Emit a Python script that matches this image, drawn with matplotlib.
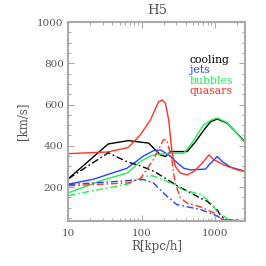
import matplotlib
matplotlib.use("Agg")
import matplotlib.pyplot as plt

# radius [kpc/h] and velocity [km/s]
r_cool = [10, 35, 66, 125, 163, 181, 212, 248, 307, 421, 548, 713, 881, 1088, 1494, 2700]
v_cool = [241, 409, 425, 413, 372, 356, 348, 372, 372, 372, 420, 477, 517, 530, 509, 413]

r_jets = [10, 22, 63, 107, 147, 181, 235, 276, 378, 468, 752, 836, 1088, 1277, 1660, 2700]
v_jets = [214, 238, 291, 351, 377, 380, 356, 332, 291, 283, 287, 307, 348, 323, 296, 275]

r_bub = [10, 30, 63, 96, 132, 163, 248, 378, 468, 705, 900, 1088, 1494, 2700]
v_bub = [172, 235, 267, 323, 351, 358, 364, 364, 404, 501, 525, 535, 511, 409]

r_qso = [10, 35, 66, 96, 132, 171, 191, 212, 235, 248, 262, 291, 341, 421, 519, 677, 836, 978, 1342, 2051, 2700]
v_qso = [362, 370, 392, 453, 525, 614, 622, 606, 525, 445, 364, 299, 267, 259, 275, 316, 356, 332, 307, 283, 275]

r_cool_dd = [10, 35, 63, 96, 145, 163, 305, 641, 784, 1088, 1197, 1480, 2700]
v_cool_dd = [241, 366, 323, 303, 277, 267, 207, 146, 132, 89, 62, 40, 35]

r_bub_dd = [10, 66, 77, 125, 145, 199, 303, 378, 636, 881, 1076, 1573, 2700]
v_bub_dd = [159, 215, 229, 256, 253, 236, 204, 186, 164, 125, 82, 41, 35]

r_jets_dd = [10, 66, 106, 145, 221, 303, 375, 636, 969, 1330, 2700]
v_jets_dd = [212, 231, 236, 220, 156, 115, 108, 91, 67, 43, 35]

r_qso_dd = [10, 66, 96, 145, 199, 221, 259, 288, 338, 416, 636, 969, 1260, 2700]
v_qso_dd = [206, 220, 240, 333, 428, 430, 333, 220, 148, 123, 104, 75, 43, 35]

BLACK = "#000000"
BLUE = "#2244ff"
GREEN = "#22ee55"
RED = "#ff3322"
AXIS = "#aaaaaa"
LABEL = "#555555"
FONT = "DejaVu Serif"

plt.rcParams["font.family"] = FONT

fig = plt.figure(figsize=(2.66, 2.66), dpi=100)
ax = fig.add_axes([0.2575, 0.169, 0.6635, 0.748])

lw = 1.0
dd = (5, 2, 1.2, 2)
for r, v, c in [(r_cool, v_cool, BLACK), (r_jets, v_jets, BLUE),
                (r_bub, v_bub, GREEN), (r_qso, v_qso, RED)]:
    ax.plot(r, v, color=c, lw=lw)
for r, v, c in [(r_cool_dd, v_cool_dd, BLACK), (r_jets_dd, v_jets_dd, BLUE),
                (r_bub_dd, v_bub_dd, GREEN), (r_qso_dd, v_qso_dd, RED)]:
    ax.plot(r, v, color=c, lw=lw, dashes=dd)

ax.set_xscale("log")
ax.set_xlim(10, 2600)
ax.set_ylim(35, 1000)
ax.set_xticks([10, 100, 1000])
ax.set_xticklabels(["10", "100", "1000"])
ax.set_yticks([200, 400, 600, 800, 1000])
ax.set_yticks(range(50, 1000, 50), minor=True)

ax.tick_params(which="both", direction="in", top=True, right=True,
               color=AXIS, labelcolor=LABEL, labelsize=7.5, width=0.8)
ax.tick_params(which="major", length=4)
ax.tick_params(which="minor", length=2)
ax.tick_params(axis="x", pad=6)
for s in ax.spines.values():
    s.set_color(AXIS)
    s.set_linewidth(1.5)

ax.set_title("H5", color=LABEL, fontsize=9.5, pad=6)
ax.set_xlabel("R[kpc/h]", color=LABEL, fontsize=8.5, labelpad=1)
ax.set_ylabel("[km/s]", color=LABEL, fontsize=8.5, labelpad=6)

names = ["cooling", "jets", "bubbles", "quasars"]
cols = [BLACK, BLUE, GREEN, RED]
for i, (n, c) in enumerate(zip(names, cols)):
    fig.text(190 / 266, 1 - (60 + 10.4 * i) / 266, n, color=c, fontsize=7.8,
             va="center", ha="left")

plt.savefig("out.png", dpi=100)
plt.close()
